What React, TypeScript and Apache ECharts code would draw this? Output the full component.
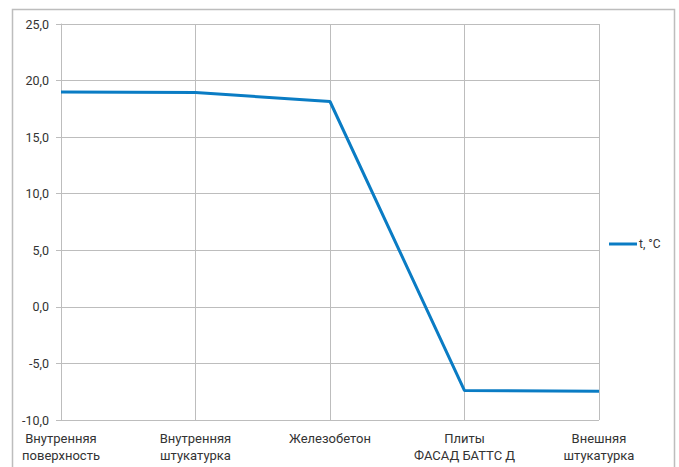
import React, { useEffect, useRef } from "react";
import * as echarts from "echarts";

const categories = [
  "Внутренняя\nповерхность",
  "Внутренняя\nштукатурка",
  "Железобетон",
  "Плиты\nФАСАД БАТТС Д",
  "Внешняя\nштукатурка",
];
const seriesName = "t, °C";
const temperatures = [19.0, 18.95, 18.15, -7.4, -7.45];
const yMin = -10;
const yMax = 25;
const yStep = 5;

export default function App() {
  const ref = useRef<HTMLDivElement>(null);
  useEffect(() => {
    if (!ref.current) return;
    const chart = echarts.init(ref.current, null, { renderer: "svg" });
    const font = "Roboto, 'Noto Sans', sans-serif";
    chart.setOption({
      animation: false,
      backgroundColor: "#ffffff",
      textStyle: { fontFamily: font },
      graphic: [
        {
          type: "rect",
          shape: { x: 12.5, y: 9.5, width: 662, height: 480 },
          style: { fill: "none", stroke: "#bdbdbd", lineWidth: 1.5 },
          silent: true,
        },
      ],
      grid: { left: 61, right: 80, top: 24, bottom: 47, containLabel: false },
      legend: {
        show: true,
        left: 604,
        top: 233,
        itemWidth: 28,
        itemHeight: 3,
        itemGap: 4,
        icon: "rect",
        data: [seriesName],
        textStyle: { fontFamily: font, fontSize: 12, color: "#333", padding: [0, 0, 0, -3] },
      },
      xAxis: {
        type: "category",
        data: categories,
        boundaryGap: false,
        axisLine: { show: true, lineStyle: { color: "#bdbdbd", width: 1 } },
        axisTick: { show: false },
        splitLine: { show: true, lineStyle: { color: "#bdbdbd", width: 1 } },
        axisLabel: {
          color: "#333",
          fontSize: 13,
          fontFamily: font,
          lineHeight: 17,
          margin: 10,
          interval: 0,
        },
      },
      yAxis: {
        type: "value",
        min: yMin,
        max: yMax,
        interval: yStep,
        axisLine: { show: true, lineStyle: { color: "#bdbdbd", width: 1 } },
        axisTick: { show: true, length: 5, lineStyle: { color: "#bdbdbd" } },
        splitLine: { show: true, lineStyle: { color: "#bdbdbd", width: 1 } },
        axisLabel: {
          color: "#333",
          fontSize: 12.5,
          fontFamily: font,
          margin: 12,
          formatter: (v: number) => v.toFixed(1).replace(".", ","),
        },
      },
      series: [
        {
          name: seriesName,
          type: "line",
          data: temperatures,
          symbol: "none",
          lineStyle: { color: "#0a7cc4", width: 3 },
          itemStyle: { color: "#0a7cc4" },
        },
      ],
    });
    return () => chart.dispose();
  }, []);
  return (
    <div
      ref={ref}
      style={{ position: "fixed", left: 0, top: 0, width: 679, height: 467 }}
    />
  );
}
